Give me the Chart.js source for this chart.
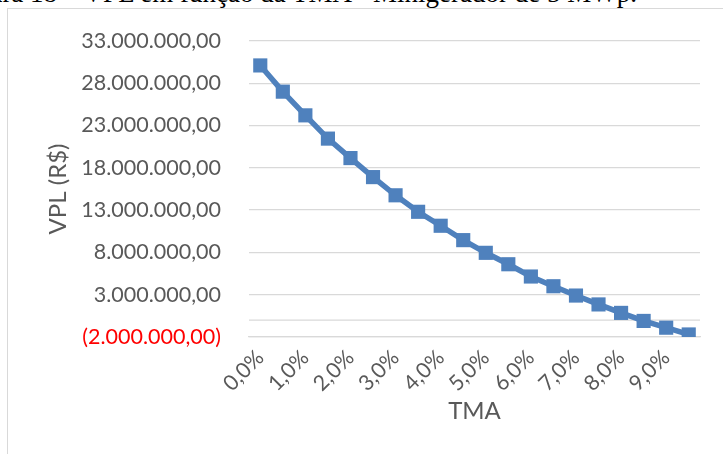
<!DOCTYPE html>
<html>
<head>
<meta charset="utf-8">
<script src="https://cdn.jsdelivr.net/npm/chart.js@4/dist/chart.umd.min.js"></script>
<style>
  html, body { margin: 0; padding: 0; background: #fff; }
  body { width: 723px; height: 454px; position: relative; overflow: hidden; }
  #caption {
    position: absolute; right: 86px; top: -20px;
    font-family: "Liberation Serif", "Times New Roman", serif;
    font-size: 27px; line-height: 27px; white-space: nowrap; color: #000;
  }
  #frame {
    position: absolute; left: 7px; top: 8px; width: 800px; height: 600px;
    border: 1.5px solid #d9d9d9; box-sizing: border-box;
  }
  #wrap { position: absolute; left: 0; top: 0; width: 723px; height: 454px; }
</style>
</head>
<body>
<div id="caption">Figura 18 – VPL em função da TMA - Minigerador de 5 MWp.</div>
<div id="frame"></div>
<div id="wrap"><canvas id="chart" width="723" height="454"></canvas></div>
<script>
// Taxa mínima de atratividade (categorias do eixo X)
const tma = ['0,0%', '0,5%', '1,0%', '1,5%', '2,0%', '2,5%', '3,0%', '3,5%', '4,0%', '4,5%',
             '5,0%', '5,5%', '6,0%', '6,5%', '7,0%', '7,5%', '8,0%', '8,5%', '9,0%', '9,5%'];

// Valor presente líquido em R$ para cada TMA
const vpl = [30100000, 27000000, 24200000, 21450000, 19150000, 16900000, 14750000, 12800000,
             11150000, 9450000, 7950000, 6600000, 5150000, 4000000, 2900000, 1850000,
             850000, -100000, -900000, -1700000];

// Escala do eixo Y
const yMin = -2000000;
const yMax = 33000000;
const yStep = 5000000;

const FONT = 'Lato, "Open Sans", sans-serif';
const GREY = '#595959';
const GRID = '#d9d9d9';
const BLUE = '#4f81bd';

// Formato contábil brasileiro: 1.234,00 e negativos entre parênteses
function brl(v) {
  const s = Math.abs(v).toFixed(2).split('.');
  const int = s[0].replace(/\B(?=(\d{3})+(?!\d))/g, '.');
  const txt = int + ',' + s[1];
  return v < 0 ? '(' + txt + ')' : txt;
}

// Linha do eixo horizontal em zero
const zeroLine = {
  id: 'zeroLine',
  beforeDatasetsDraw(chart) {
    const {ctx, chartArea, scales} = chart;
    const y = scales.y.getPixelForValue(0);
    ctx.save();
    ctx.strokeStyle = GRID;
    ctx.lineWidth = 1.3;
    ctx.beginPath();
    ctx.moveTo(chartArea.left, y);
    ctx.lineTo(chartArea.right, y);
    ctx.stroke();
    ctx.restore();
  }
};

new Chart(document.getElementById('chart'), {
  type: 'line',
  data: {
    labels: tma,
    datasets: [{
      data: vpl,
      borderColor: BLUE,
      backgroundColor: BLUE,
      borderWidth: 5.5,
      pointStyle: 'rect',
      pointRadius: 10,
      pointHoverRadius: 10,
      pointBorderWidth: 0,
      tension: 0
    }]
  },
  plugins: [zeroLine],
  options: {
    responsive: false,
    animation: false,
    events: [],
    layout: { padding: { top: 37, right: 23, left: 0, bottom: 0 } },
    plugins: { legend: { display: false }, tooltip: { enabled: false } },
    scales: {
      x: {
        offset: true,
        grid: { display: false, drawTicks: false },
        border: { display: true, color: GRID, width: 1.3 },
        ticks: {
          autoSkip: false,
          minRotation: 45,
          maxRotation: 45,
          padding: 8,
          color: GREY,
          font: { family: FONT, size: 21.5 },
          callback: (v, i) => (i % 2 === 0 ? tma[i] : '')
        },
        title: {
          display: true,
          text: 'TMA',
          color: GREY,
          font: { family: FONT, size: 24 },
          padding: { top: 0, bottom: 28 }
        },
        afterFit: (s) => { s.height = 117; }
      },
      y: {
        min: yMin,
        max: yMax,
        grid: { color: GRID, lineWidth: 1.3, drawTicks: false },
        border: { display: false },
        ticks: {
          stepSize: yStep,
          padding: 28,
          color: (c) => (c.tick && c.tick.value < 0 ? '#ff0000' : GREY),
          font: { family: FONT, size: 21.5 },
          callback: (v) => brl(v)
        },
        title: {
          display: true,
          text: 'VPL (R$)',
          color: GREY,
          font: { family: FONT, size: 24 },
          padding: { top: 44, bottom: 0 }
        },
        afterFit: (s) => { s.width = 249; }
      }
    }
  }
});
</script>
</body>
</html>
